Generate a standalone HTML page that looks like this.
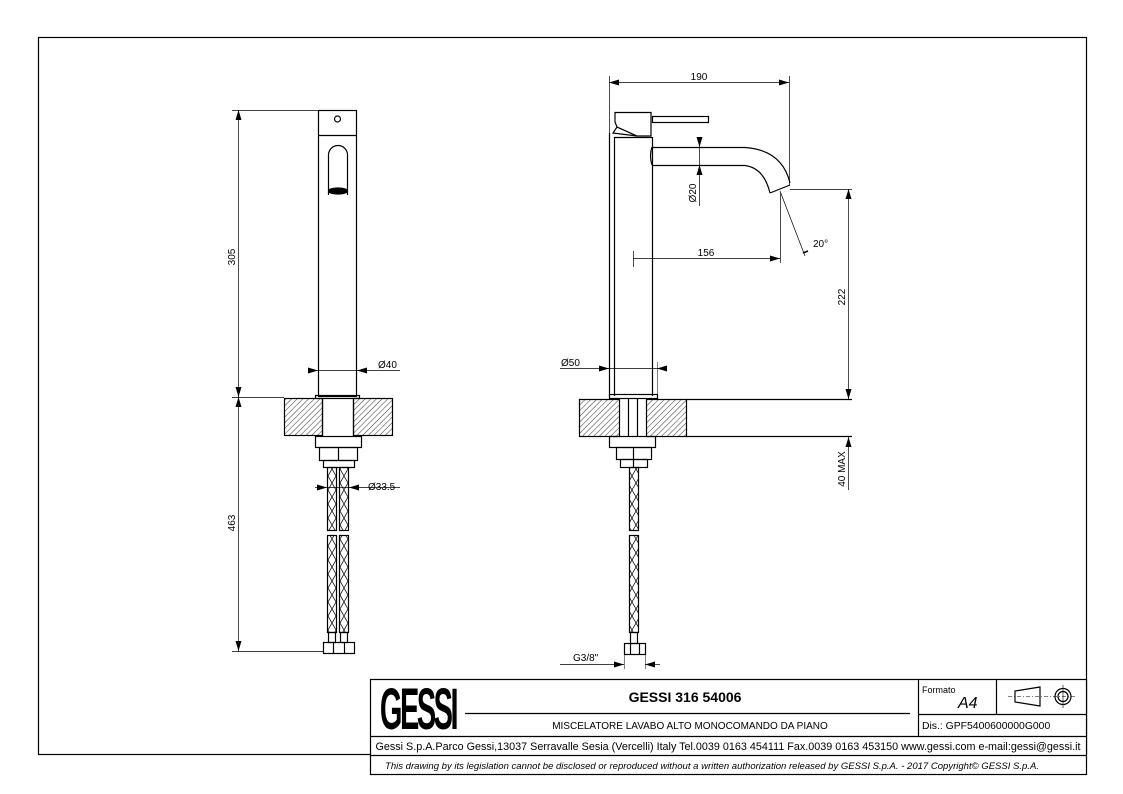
<!DOCTYPE html>
<html><head><meta charset="utf-8"><style>
html,body{margin:0;padding:0;background:#fff}
svg{display:block}
text{font-family:"Liberation Sans",Arial,sans-serif;fill:#000}
</style></head><body>
<svg width="1123" height="794" viewBox="0 0 1123 794" xmlns="http://www.w3.org/2000/svg">
<defs>
<pattern id="h" width="4" height="4" patternUnits="userSpaceOnUse" patternTransform="rotate(45)">
<line x1="0" y1="0" x2="0" y2="4" stroke="#000" stroke-width="0.8"/></pattern>
<pattern id="b" width="8" height="14" patternUnits="userSpaceOnUse">
<path d="M0,0 L8,14 M8,0 L0,14" stroke="#000" stroke-width="0.7" fill="none"/></pattern>
<marker id="a" viewBox="0 0 10 6" refX="10" refY="3" markerWidth="10" markerHeight="6" orient="auto-start-reverse" markerUnits="userSpaceOnUse"><path d="M0,0 L10,3 L0,6z" fill="#000"/></marker>
</defs>
<g fill="none" stroke="#000" stroke-width="1.2">
<rect x="38.5" y="37.5" width="1048" height="717"/>
<rect x="370.5" y="679.5" width="716" height="95" fill="#fff"/>
<line x1="370" y1="736.5" x2="1086" y2="736.5"/>
<line x1="370" y1="755.5" x2="1086" y2="755.5"/>
<line x1="918.5" y1="679" x2="918.5" y2="736"/>
<line x1="996.5" y1="679" x2="996.5" y2="714"/>
<line x1="918" y1="714.5" x2="1086" y2="714.5"/>
<line x1="465" y1="713.5" x2="910" y2="713.5"/>
<path d="M1015,691 L1040,687 L1040,706 L1015,702 Z"/>
<circle cx="1063" cy="696.5" r="8"/><circle cx="1063" cy="696.5" r="5"/>
<line x1="1008" y1="696.5" x2="1076" y2="696.5" stroke-dasharray="4,2,1,2" stroke-width="0.6"/>
<line x1="1063" y1="685" x2="1063" y2="708" stroke-width="0.6"/>

<rect x="318.5" y="110.5" width="38" height="286"/>
<line x1="318" y1="135.5" x2="356" y2="135.5"/>
<circle cx="337.5" cy="119" r="3"/>
<path d="M328.5,195 L328.5,155 A9.5,9.5 0 0 1 347.5,155 L347.5,195"/>
<ellipse cx="338" cy="191" rx="9.5" ry="3" fill="#000"/>
<rect x="315.5" y="395.5" width="44" height="3"/>
<rect x="284.5" y="398.5" width="38" height="37" fill="url(#h)"/>
<rect x="353.5" y="398.5" width="39" height="37" fill="url(#h)"/>
<line x1="322.5" y1="398" x2="322.5" y2="436"/><line x1="353.5" y1="398" x2="353.5" y2="436"/>
<rect x="315.5" y="436.5" width="46" height="11"/>
<rect x="319.5" y="447.5" width="38" height="13"/>
<line x1="338.5" y1="447" x2="338.5" y2="460"/>
<rect x="323.5" y="460.5" width="31" height="7"/>
<rect x="327.5" y="467.5" width="9" height="63" fill="url(#b)"/>
<rect x="339.5" y="467.5" width="9" height="63" fill="url(#b)"/>
<rect x="327.5" y="535.5" width="9" height="97" fill="url(#b)"/>
<rect x="339.5" y="535.5" width="9" height="97" fill="url(#b)"/>
<rect x="328.5" y="632.5" width="7" height="10"/><rect x="340.5" y="632.5" width="7" height="10"/>
<rect x="323.5" y="642.5" width="31" height="11"/>
<line x1="333.5" y1="642" x2="333.5" y2="653"/><line x1="344.5" y1="642" x2="344.5" y2="653"/>
<line x1="232" y1="110.5" x2="318" y2="110.5" stroke-width="0.7"/>
<line x1="232" y1="397.5" x2="284" y2="397.5" stroke-width="0.7"/>
<line x1="232" y1="651.5" x2="323" y2="651.5" stroke-width="0.7"/>
<line x1="238.5" y1="110" x2="238.5" y2="397" marker-start="url(#a)" marker-end="url(#a)" stroke-width="0.7"/>
<line x1="238.5" y1="397" x2="238.5" y2="651" marker-start="url(#a)" marker-end="url(#a)" stroke-width="0.7"/>
<line x1="312" y1="370.5" x2="318" y2="370.5" marker-end="url(#a)" stroke-width="0.7"/>
<line x1="400" y1="370.5" x2="357" y2="370.5" marker-end="url(#a)" stroke-width="0.7"/>
<line x1="318" y1="370.5" x2="357" y2="370.5" stroke-width="0.7"/>
<line x1="315" y1="487.5" x2="327" y2="487.5" marker-end="url(#a)" stroke-width="0.7"/>
<line x1="400" y1="487.5" x2="349" y2="487.5" marker-end="url(#a)" stroke-width="0.7"/>
<line x1="327" y1="487.5" x2="349" y2="487.5" stroke-width="0.7"/>
<line x1="327.5" y1="467" x2="327.5" y2="497" stroke-width="0.5"/><line x1="348.5" y1="467" x2="348.5" y2="497" stroke-width="0.5"/>

<line x1="609.5" y1="133" x2="609.5" y2="396"/>
<line x1="614.5" y1="137" x2="614.5" y2="396"/>
<line x1="652.5" y1="137" x2="652.5" y2="396"/>
<line x1="614" y1="137.5" x2="652" y2="137.5"/>
<path d="M615,112.5 L651,112.5 L651,136 L637,136 L617,127 L615,122 Z"/>
<path d="M617,127 L613,133 L637,136"/>
<rect x="652.5" y="116.5" width="56" height="6"/>
<path d="M652,147.5 L745,147.5 Q782,150 790,183"/>
<path d="M652,165.5 L745,165.5 Q764,168 770,193"/>
<path d="M652,147 Q649,156 652,165"/>
<line x1="770" y1="193" x2="790" y2="185"/>
<rect x="609.5" y="394.5" width="48" height="4"/>
<rect x="579.5" y="399.5" width="40" height="37" fill="url(#h)"/>
<rect x="646.5" y="399.5" width="40" height="37" fill="url(#h)"/>
<line x1="628.5" y1="399" x2="628.5" y2="436"/><line x1="637.5" y1="399" x2="637.5" y2="436"/>
<line x1="686" y1="399.5" x2="852" y2="399.5"/>
<line x1="686" y1="436.5" x2="852" y2="436.5"/>
<rect x="609.5" y="436.5" width="46" height="11"/>
<rect x="616.5" y="447.5" width="35" height="12"/>
<line x1="633.5" y1="447" x2="633.5" y2="459"/>
<rect x="620.5" y="459.5" width="27" height="8"/>
<line x1="633.5" y1="459" x2="633.5" y2="467"/>
<rect x="629.5" y="467.5" width="9" height="63" fill="url(#b)"/>
<rect x="629.5" y="535.5" width="9" height="97" fill="url(#b)"/>
<rect x="630.5" y="632.5" width="7" height="11"/>
<rect x="624.5" y="643.5" width="21" height="11"/>
<line x1="630.5" y1="643" x2="630.5" y2="654"/><line x1="639.5" y1="643" x2="639.5" y2="654"/>
<line x1="609.5" y1="76" x2="609.5" y2="133" stroke-width="0.7"/>
<line x1="789.5" y1="76" x2="789.5" y2="185" stroke-width="0.7"/>
<line x1="609" y1="82.5" x2="789" y2="82.5" marker-start="url(#a)" marker-end="url(#a)" stroke-width="0.7"/>
<line x1="699.5" y1="139" x2="699.5" y2="147" marker-end="url(#a)" stroke-width="0.7"/>
<line x1="699.5" y1="206" x2="699.5" y2="165" marker-end="url(#a)" stroke-width="0.7"/>
<line x1="699.5" y1="147" x2="699.5" y2="165" stroke-width="0.7"/>
<line x1="780" y1="191" x2="805" y2="256" stroke-width="0.7"/>
<line x1="803" y1="253" x2="808" y2="251" stroke-width="1.5"/>
<line x1="780.5" y1="193" x2="780.5" y2="263" stroke-width="0.7"/>
<line x1="633.5" y1="251" x2="633.5" y2="267" stroke-width="0.7"/>
<line x1="633" y1="258.5" x2="780" y2="258.5" marker-end="url(#a)" stroke-width="0.7"/>
<line x1="790" y1="189.5" x2="852" y2="189.5" stroke-width="0.7"/>
<line x1="848.5" y1="189" x2="848.5" y2="399" marker-start="url(#a)" marker-end="url(#a)" stroke-width="0.7"/>
<line x1="848.5" y1="490" x2="848.5" y2="437" marker-end="url(#a)" stroke-width="0.7"/>
<line x1="560" y1="368.5" x2="609" y2="368.5" marker-end="url(#a)" stroke-width="0.7"/>
<line x1="665" y1="368.5" x2="657" y2="368.5" marker-end="url(#a)" stroke-width="0.7"/>
<line x1="609" y1="368.5" x2="657" y2="368.5" stroke-width="0.7"/>
<line x1="657.5" y1="362" x2="657.5" y2="394" stroke-width="0.5"/>
<line x1="560" y1="664.5" x2="624" y2="664.5" marker-end="url(#a)" stroke-width="0.7"/>
<line x1="660" y1="664.5" x2="645" y2="664.5" marker-end="url(#a)" stroke-width="0.7"/>
<line x1="624.5" y1="654" x2="624.5" y2="669" stroke-width="0.5"/><line x1="645.5" y1="654" x2="645.5" y2="669" stroke-width="0.5"/>
</g>
<g font-size="10">
<text x="235" y="257" transform="rotate(-90 235 257)" text-anchor="middle">305</text>
<text x="235" y="523" transform="rotate(-90 235 523)" text-anchor="middle">463</text>
<text x="378" y="368">Ø40</text>
<text x="368" y="490">Ø33.5</text>
<text x="699" y="80" text-anchor="middle">190</text>
<text x="696" y="193" transform="rotate(-90 696 193)" text-anchor="middle">Ø20</text>
<text x="813" y="247">20°</text>
<text x="706" y="256" text-anchor="middle">156</text>
<text x="845" y="297" transform="rotate(-90 845 297)" text-anchor="middle">222</text>
<text x="845" y="469" transform="rotate(-90 845 469)" text-anchor="middle">40 MAX</text>
<text x="561" y="366">Ø50</text>
<text x="573" y="661">G3/8"</text>
</g>
<text x="0" y="0" font-size="58" font-weight="bold" text-anchor="middle" letter-spacing="-5" transform="translate(418 729) scale(0.5 1)">GESSI</text>
<text x="685" y="702" font-size="14" font-weight="bold" text-anchor="middle">GESSI 316 54006</text>
<text x="690" y="729" font-size="10" text-anchor="middle">MISCELATORE LAVABO ALTO MONOCOMANDO DA PIANO</text>
<text x="922" y="693" font-size="9">Formato</text>
<text x="958" y="708" font-size="16" font-style="italic">A4</text>
<text x="922" y="729" font-size="10.4">Dis.: GPF5400600000G000</text>
<text x="728" y="750" font-size="10.6" text-anchor="middle" textLength="705" lengthAdjust="spacingAndGlyphs">Gessi S.p.A.Parco Gessi,13037 Serravalle Sesia (Vercelli) Italy Tel.0039 0163 454111 Fax.0039 0163 453150 www.gessi.com e-mail:gessi@gessi.it</text>
<text x="712" y="769" font-size="8.8" font-style="italic" text-anchor="middle" textLength="654" lengthAdjust="spacingAndGlyphs">This drawing by its legislation cannot be disclosed or reproduced without a written authorization released by GESSI S.p.A. - 2017 Copyright© GESSI S.p.A.</text>
</svg>
</body></html>
